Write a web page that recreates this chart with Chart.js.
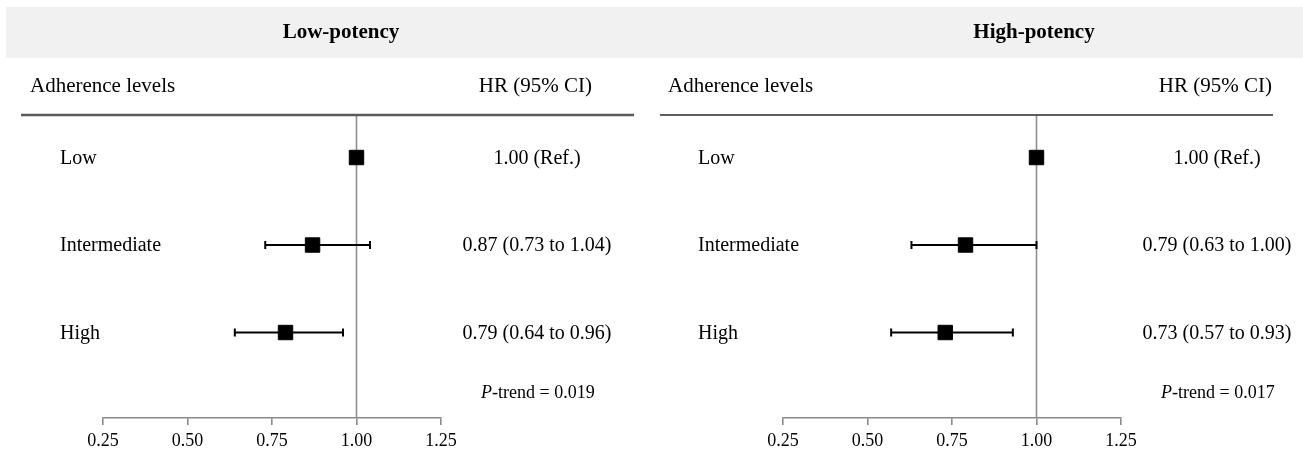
<!DOCTYPE html>
<html>
<head>
<meta charset="utf-8">
<title>Adherence levels and HR (95% CI)</title>
<script src="https://cdn.jsdelivr.net/npm/chart.js@4/dist/chart.umd.min.js"></script>
<style>
  html, body { margin: 0; padding: 0; background: #ffffff; }
  body { width: 1303px; height: 454px; position: relative; overflow: hidden; }
  canvas { position: absolute; top: 0; }
</style>
</head>
<body>
<canvas id="lowChart" width="651" height="454" style="left:0px"></canvas>
<canvas id="highChart" width="652" height="454" style="left:651px"></canvas>
<script>
// Adherence categories (rows, top to bottom)
const levels = ['Low', 'Intermediate', 'High'];

// Low-potency: hazard ratios and 95% confidence limits
const lowHR = [1.00, 0.87, 0.79];
const lowLower = [null, 0.73, 0.64];
const lowUpper = [null, 1.04, 0.96];
const lowPTrend = '0.019';

// High-potency: hazard ratios and 95% confidence limits
const highHR = [1.00, 0.79, 0.73];
const highLower = [null, 0.63, 0.57];
const highUpper = [null, 1.00, 0.93];
const highPTrend = '0.017';

// X axis tick values
const xTicks = [0.25, 0.50, 0.75, 1.00, 1.25];

const SERIF = '"Liberation Serif", "Times New Roman", Times, serif';
Chart.defaults.font.family = SERIF;
Chart.defaults.color = '#000';

function hrText(hr, lo, hi) {
  if (lo === null || hi === null) return hr.toFixed(2) + ' (Ref.)';
  return hr.toFixed(2) + ' (' + lo.toFixed(2) + ' to ' + hi.toFixed(2) + ')';
}

// Table text, header band and reference line drawn around the plot
const forestDecor = {
  id: 'forestDecor',
  beforeDraw(chart, args, o) {
    const ctx = chart.ctx;
    ctx.save();
    ctx.fillStyle = '#f1f1f1';
    ctx.fillRect(o.bandX0, 7, chart.width - o.bandX0, 51);
    ctx.restore();
  },
  beforeDatasetsDraw(chart, args, o) {
    const ctx = chart.ctx;
    const xs = chart.scales.x;
    const area = chart.chartArea;
    const x1 = xs.getPixelForValue(1);
    ctx.save();
    ctx.strokeStyle = '#8f8f8f';
    ctx.lineWidth = 1.6;
    ctx.beginPath();
    ctx.moveTo(x1, area.top);
    ctx.lineTo(x1, area.bottom);
    ctx.stroke();
    ctx.restore();
  },
  afterDraw(chart, args, o) {
    const ctx = chart.ctx;
    const ys = chart.scales.y;
    ctx.save();
    ctx.fillStyle = '#000';
    ctx.textBaseline = 'middle';

    // panel title
    ctx.font = 'bold 21px ' + SERIF;
    ctx.textAlign = 'center';
    ctx.fillText(o.title, o.titleX, 33);

    // column headers
    ctx.font = '21px ' + SERIF;
    ctx.textAlign = 'left';
    ctx.fillText('Adherence levels', o.headLeftX, 86);
    ctx.textAlign = 'right';
    ctx.fillText('HR (95% CI)', o.headRightX, 86);

    // rule under headers
    ctx.strokeStyle = o.ruleColor;
    ctx.lineWidth = o.ruleWidth;
    ctx.beginPath();
    ctx.moveTo(o.ruleX0, 115);
    ctx.lineTo(o.ruleX1, 115);
    ctx.stroke();

    // row labels and estimates
    ctx.font = '20px ' + SERIF;
    o.hr.forEach((hr, i) => {
      const y = ys.getPixelForValue(i) + 1;
      ctx.textAlign = 'left';
      ctx.fillText(levels[i], o.rowLabelX, y);
      ctx.textAlign = 'center';
      ctx.fillText(hrText(hr, o.lower[i], o.upper[i]), o.hrX, y);
    });

    // P for trend
    ctx.textAlign = 'left';
    ctx.font = 'italic 18px ' + SERIF;
    ctx.fillText('P', o.pX, 393);
    const pw = ctx.measureText('P').width;
    ctx.font = '18px ' + SERIF;
    ctx.fillText('-trend = ' + o.pTrend, o.pX + pw, 393);
    ctx.restore();
  }
};

function buildChart(canvasId, hr, lower, upper, deco, padLeft, padRight) {
  const datasets = [];
  // point estimates (drawn on top)
  datasets.push({
    data: hr.map((v, i) => ({ x: v, y: i })),
    pointStyle: 'rect',
    pointRadius: 10.2,
    backgroundColor: '#000',
    borderColor: '#000',
    borderWidth: 1,
    showLine: false
  });
  // confidence intervals with end caps
  hr.forEach((v, i) => {
    if (lower[i] === null) return;
    datasets.push({
      data: [{ x: lower[i], y: i }, { x: upper[i], y: i }],
      showLine: true,
      borderColor: '#000',
      borderWidth: 2,
      pointStyle: 'line',
      rotation: 90,
      pointRadius: 4,
      pointBorderWidth: 2,
      pointBorderColor: '#000'
    });
  });

  return new Chart(document.getElementById(canvasId), {
    type: 'scatter',
    data: { datasets },
    options: {
      responsive: false,
      devicePixelRatio: 1,
      animation: false,
      events: [],
      layout: { padding: { left: padLeft, right: padRight, top: 115, bottom: 0 } },
      plugins: {
        legend: { display: false },
        tooltip: { enabled: false },
        forestDecor: Object.assign({ hr, lower, upper }, deco)
      },
      scales: {
        x: {
          type: 'linear',
          min: 0.25,
          max: 1.25,
          afterBuildTicks: (s) => { s.ticks = xTicks.map(v => ({ value: v })); },
          afterFit: (s) => { s.height = 36; },
          border: { display: true, color: '#8a8a8a', width: 1.6 },
          grid: { display: true, drawOnChartArea: false, drawTicks: true, tickLength: 7, color: '#8a8a8a', lineWidth: 1.6 },
          ticks: {
            font: { size: 18, family: SERIF },
            color: '#000',
            padding: 5,
            maxRotation: 0,
            callback: (v) => Number(v).toFixed(2)
          }
        },
        y: {
          type: 'linear',
          display: false,
          reverse: true,
          min: -0.486,
          max: 2.977
        }
      }
    },
    plugins: [forestDecor]
  });
}

buildChart('lowChart', lowHR, lowLower, lowUpper, {
  title: 'Low-potency', titleX: 341, bandX0: 6,
  headLeftX: 30, headRightX: 592,
  ruleX0: 21, ruleX1: 634, ruleColor: '#5a5a5a', ruleWidth: 2.4,
  rowLabelX: 60, hrX: 537, pX: 481, pTrend: lowPTrend
}, 103, 210);

buildChart('highChart', highHR, highLower, highUpper, {
  title: 'High-potency', titleX: 383, bandX0: 0,
  headLeftX: 17, headRightX: 621,
  ruleX0: 9, ruleX1: 622, ruleColor: '#2a2a2a', ruleWidth: 1.6,
  rowLabelX: 47, hrX: 566, pX: 510, pTrend: highPTrend
}, 132, 182);
</script>
</body>
</html>
